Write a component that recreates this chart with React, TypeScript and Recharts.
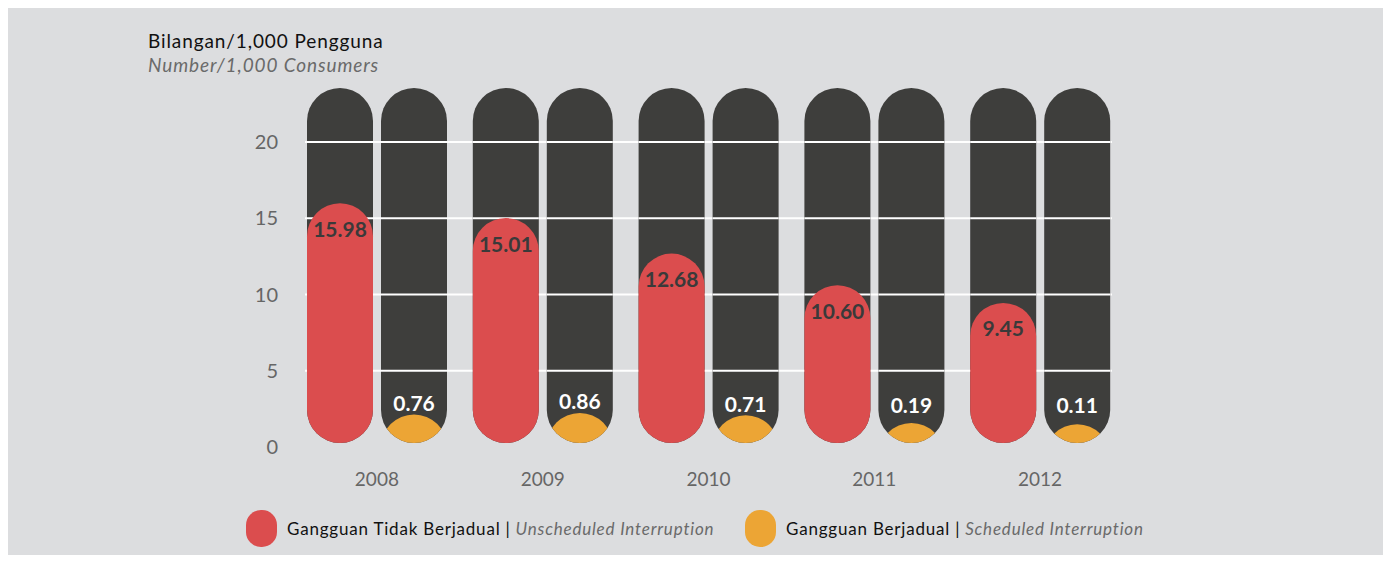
import React from 'react';
import { BarChart, Bar, XAxis, YAxis, CartesianGrid, LabelList } from 'recharts';

const years = ['2008', '2009', '2010', '2011', '2012'];
const unscheduled = [15.98, 15.01, 12.68, 10.6, 9.45];
const scheduled = [0.76, 0.86, 0.71, 0.19, 0.11];
const yTicks = [0, 5, 10, 15, 20];
const gridValues = [5, 10, 15, 20];

const data = years.map((year, i) => ({
  year,
  unscheduled: unscheduled[i],
  scheduled: scheduled[i],
}));

// Colours
const BG = '#dcdddf';
const DARK = '#3e3e3c';
const RED = '#db4d4e';
const ORANGE = '#eca535';
const FONT = 'Lato, "Open Sans", sans-serif';

const Y_MAX = 23.54; // top of the dark capsules
const INSET = 4; // capsules stop a little above the baseline
const ORANGE_LIFT = 21; // orange blob sits a bit above its value

// dark capsule behind every bar, with the white grid lines running across it
const capsuleBg = (p: any) => {
  const { x, y, width: w, height: h, index } = p;
  const r = w / 2;
  const b = y + h - INSET;
  const d = `M${x},${y + r} A${r},${r} 0 0 1 ${x + w},${y + r} L${x + w},${b - r} A${r},${r} 0 0 1 ${x},${b - r} Z`;
  return (
    <g key={`bg-${x}-${index}`}>
      <path d={d} fill={DARK} />
      {gridValues.map((v) => {
        const gy = y + h - (v / Y_MAX) * h;
        return <line key={v} x1={x} x2={x + w} y1={gy} y2={gy} stroke="#fff" strokeWidth={2} />;
      })}
    </g>
  );
};

const RedShape = (p: any) => {
  const { x, y, width: w, height: h } = p;
  const r = w / 2;
  const b = y + h - INSET;
  const d = `M${x},${y + r} A${r},${r} 0 0 1 ${x + w},${y + r} L${x + w},${b - r} A${r},${r} 0 0 1 ${x},${b - r} Z`;
  return <path d={d} fill={RED} />;
};

const OrangeShape = (p: any) => {
  const { x, y, width: w, height: h, index } = p;
  const r = w / 2;
  const b = y + h - INSET;
  const top = y - ORANGE_LIFT;
  const id = `clip-orange-${index}`;
  const clip = `M${x},${top - 10} L${x + w},${top - 10} L${x + w},${b - r} A${r},${r} 0 0 1 ${x},${b - r} Z`;
  return (
    <g>
      <defs>
        <clipPath id={id}>
          <path d={clip} />
        </clipPath>
      </defs>
      <g clipPath={`url(#${id})`}>
        <circle cx={x + r} cy={top + r} r={r} fill={ORANGE} />
        <rect x={x} y={top + r} width={w} height={Math.max(0, b + INSET - top - r)} fill={ORANGE} />
      </g>
    </g>
  );
};

const redLabel = (p: any) => {
  const { x, y, width, value } = p;
  return (
    <text x={x + width / 2} y={y + 25} textAnchor="middle" dominantBaseline="central"
      fill="#3a3a3a" fontFamily={FONT} fontWeight={700} fontSize={21}>
      {Number(value).toFixed(2)}
    </text>
  );
};

const orangeLabel = (p: any) => {
  const { x, y, width, height, value } = p;
  // small values keep their label at a fixed height above the baseline
  const ly = Math.min(y - ORANGE_LIFT - 12, y + height - 43);
  return (
    <text x={x + width / 2} y={ly} textAnchor="middle" dominantBaseline="central"
      fill="#fff" fontFamily={FONT} fontWeight={700} fontSize={21}>
      {Number(value).toFixed(2)}
    </text>
  );
};

const legendItems = [
  { color: RED, main: 'Gangguan Tidak Berjadual', sub: 'Unscheduled Interruption', left: 238 },
  { color: ORANGE, main: 'Gangguan Berjadual', sub: 'Scheduled Interruption', left: 737 },
];

export default function App() {
  return (
    <div style={{ position: 'relative', width: 1375, height: 547, background: BG, fontFamily: FONT }}>
      <div style={{ position: 'absolute', left: 140, top: 21, fontSize: 19, lineHeight: '24px', color: '#111', letterSpacing: 0.9 }}>
        Bilangan/1,000 Pengguna
        <div style={{ fontStyle: 'italic', color: '#6a6a6a' }}>Number/1,000 Consumers</div>
      </div>

      <BarChart
        width={1375}
        height={547}
        data={data}
        margin={{ top: 80, right: 260, bottom: 68, left: 206 }}
        barSize={66}
        barGap={8}
        accessibilityLayer={false}
      >
        <CartesianGrid x={297} width={807} vertical={false} horizontalValues={gridValues}
          stroke="#fff" strokeWidth={2} strokeDasharray="" />
        <XAxis dataKey="year" axisLine={false} tickLine={false} tickSize={0} tickMargin={26} height={40}
          tick={{ fill: '#666', fontSize: 19, fontFamily: FONT }} />
        <YAxis domain={[0, Y_MAX]} ticks={yTicks} axisLine={false} tickLine={false} tickSize={0}
          tickMargin={16} width={80} tick={{ fill: '#666', fontSize: 20, fontFamily: FONT }} />
        <Bar dataKey="unscheduled" isAnimationActive={false} background={capsuleBg} shape={(p: any) => <RedShape {...p} />}>
          <LabelList dataKey="unscheduled" content={redLabel} />
        </Bar>
        <Bar dataKey="scheduled" isAnimationActive={false} background={capsuleBg} shape={(p: any) => <OrangeShape {...p} />}>
          <LabelList dataKey="scheduled" content={orangeLabel} />
        </Bar>
      </BarChart>

      {legendItems.map((item) => (
        <div key={item.main} style={{ position: 'absolute', left: item.left, top: 502, height: 37,
          display: 'flex', alignItems: 'center', fontSize: 17, color: '#111', whiteSpace: 'nowrap', letterSpacing: 0.8 }}>
          <span style={{ display: 'block', width: 31, height: 37, borderRadius: 15, background: item.color, marginRight: 10 }} />
          <span>{item.main}</span>
          <span style={{ margin: '0 5px' }}>|</span>
          <span style={{ fontStyle: 'italic', color: '#6a6a6a' }}>{item.sub}</span>
        </div>
      ))}
    </div>
  );
}
